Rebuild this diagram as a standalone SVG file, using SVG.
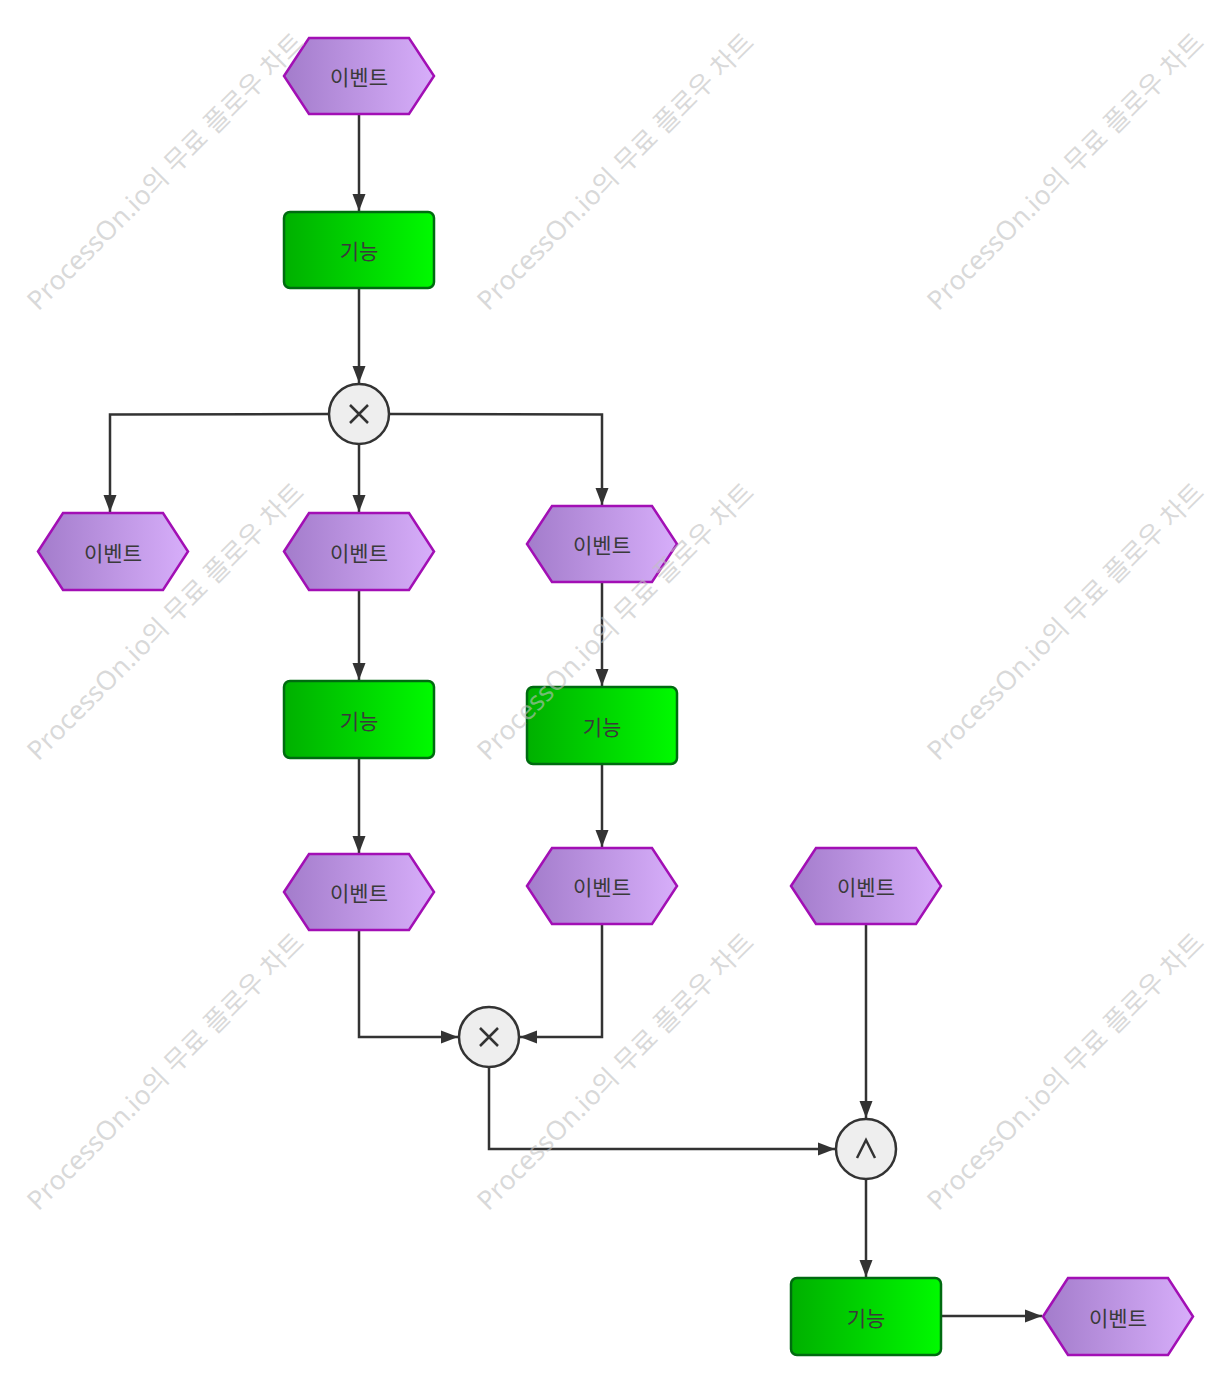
<svg xmlns="http://www.w3.org/2000/svg" width="1230" height="1392" viewBox="0 0 1230 1392">
<style>
.ev{fill:url(#gEv);stroke:#a20fb5;stroke-width:2.5;stroke-linejoin:miter}
.fn{fill:url(#gFn);stroke:#006b10;stroke-width:2.5}
.gw{fill:#eeeeee;stroke:#333;stroke-width:2.5}
.sym{fill:none;stroke:#333;stroke-width:2.5}
.lbl{font-family:"Noto Sans CJK KR","Noto Sans",sans-serif;font-size:21px;fill:#3a3a3a;text-anchor:middle;dominant-baseline:central}
.cn{fill:none;stroke:#333;stroke-width:2.5;marker-end:url(#arr)}
.wm{font-family:"Noto Sans","Noto Sans CJK KR",sans-serif;font-size:26.5px;fill:#c0c0c0;fill-opacity:0.6;text-anchor:middle}
</style>
<defs>
<linearGradient id="gEv" x1="0" y1="0" x2="1" y2="0">
<stop offset="0" stop-color="#a37ccb"/>
<stop offset="1" stop-color="#d7aefa"/>
</linearGradient>
<linearGradient id="gFn" x1="0" y1="0" x2="1" y2="0">
<stop offset="0" stop-color="#00b000"/>
<stop offset="1" stop-color="#00fa00"/>
</linearGradient>
<marker id="arr" markerUnits="userSpaceOnUse" markerWidth="18" markerHeight="14" refX="17" refY="7" orient="auto">
<path d="M0,0.5 L17,7 L0,13.5 Z" fill="#333"/>
</marker>
</defs>
<rect width="1230" height="1392" fill="#ffffff"/>

<g id="connectors">
<path class="cn" d="M359,114 L359,211"/>
<path class="cn" d="M359,288 L359,383"/>
<path class="cn" d="M329,414 L110,414.5 L110,512"/>
<path class="cn" d="M359,444 L359,512"/>
<path class="cn" d="M389,414 L602,414.5 L602,505"/>
<path class="cn" d="M359,590 L359,680"/>
<path class="cn" d="M602,582 L602,686"/>
<path class="cn" d="M359,758 L359,853"/>
<path class="cn" d="M602,764 L602,847"/>
<path class="cn" d="M359,930 L359,1037 L458,1037"/>
<path class="cn" d="M602,924 L602,1037 L520,1037"/>
<path class="cn" d="M489,1067 L489,1149 L835,1149"/>
<path class="cn" d="M866,924 L866,1118"/>
<path class="cn" d="M866,1179 L866,1277"/>
<path class="cn" d="M941,1316 L1042,1316"/>
</g>

<g id="event1"><polygon class="ev" points="284,76 309,38 409,38 434,76 409,114 309,114"/><text class="lbl" x="359" y="76">이벤트</text></g>
<g id="function1"><rect class="fn" x="284" y="212" width="150" height="76" rx="6"/><text class="lbl" x="359" y="250">기능</text></g>
<g id="xor1"><circle class="gw" cx="359" cy="414" r="30"/><path class="sym" d="M350,405 L368,423 M368,405 L350,423"/></g>
<g id="event2"><polygon class="ev" points="38,551.5 63,513 163,513 188,551.5 163,590 63,590"/><text class="lbl" x="113" y="551.5">이벤트</text></g>
<g id="event3"><polygon class="ev" points="284,551.5 309,513 409,513 434,551.5 409,590 309,590"/><text class="lbl" x="359" y="551.5">이벤트</text></g>
<g id="event4"><polygon class="ev" points="527,544 552,506 652,506 677,544 652,582 552,582"/><text class="lbl" x="602" y="544">이벤트</text></g>
<g id="function2"><rect class="fn" x="284" y="681" width="150" height="77" rx="6"/><text class="lbl" x="359" y="719.5">기능</text></g>
<g id="function3"><rect class="fn" x="527" y="687" width="150" height="77" rx="6"/><text class="lbl" x="602" y="725.5">기능</text></g>
<g id="event5"><polygon class="ev" points="284,892 309,854 409,854 434,892 409,930 309,930"/><text class="lbl" x="359" y="892">이벤트</text></g>
<g id="event6"><polygon class="ev" points="527,886 552,848 652,848 677,886 652,924 552,924"/><text class="lbl" x="602" y="886">이벤트</text></g>
<g id="event7"><polygon class="ev" points="791,886 816,848 916,848 941,886 916,924 816,924"/><text class="lbl" x="866" y="886">이벤트</text></g>
<g id="xor2"><circle class="gw" cx="489" cy="1037" r="30"/><path class="sym" d="M480,1028 L498,1046 M498,1028 L480,1046"/></g>
<g id="and1"><circle class="gw" cx="866" cy="1149" r="30"/><path class="sym" d="M857,1158 L866,1140 L875,1158"/></g>
<g id="function4"><rect class="fn" x="791" y="1278" width="150" height="77" rx="6"/><text class="lbl" x="866" y="1316.5">기능</text></g>
<g id="event8"><polygon class="ev" points="1043,1316.5 1068,1278 1168,1278 1193,1316.5 1168,1355 1068,1355"/><text class="lbl" x="1118" y="1316.5">이벤트</text></g>

<g id="watermark">
<text class="wm" transform="translate(172,178) rotate(-45)">ProcessOn.io의 무료 플로우 차트</text>
<text class="wm" transform="translate(622,178) rotate(-45)">ProcessOn.io의 무료 플로우 차트</text>
<text class="wm" transform="translate(1072,178) rotate(-45)">ProcessOn.io의 무료 플로우 차트</text>
<text class="wm" transform="translate(172,628) rotate(-45)">ProcessOn.io의 무료 플로우 차트</text>
<text class="wm" transform="translate(622,628) rotate(-45)">ProcessOn.io의 무료 플로우 차트</text>
<text class="wm" transform="translate(1072,628) rotate(-45)">ProcessOn.io의 무료 플로우 차트</text>
<text class="wm" transform="translate(172,1078) rotate(-45)">ProcessOn.io의 무료 플로우 차트</text>
<text class="wm" transform="translate(622,1078) rotate(-45)">ProcessOn.io의 무료 플로우 차트</text>
<text class="wm" transform="translate(1072,1078) rotate(-45)">ProcessOn.io의 무료 플로우 차트</text>
</g>
</svg>
